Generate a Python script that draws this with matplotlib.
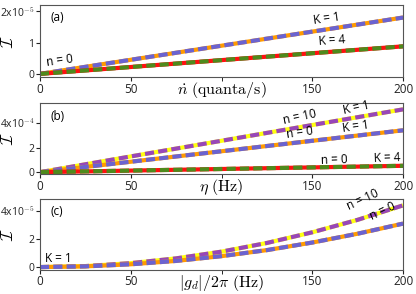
import numpy as np
import matplotlib.pyplot as plt

plt.rcParams['mathtext.fontset'] = 'cm'
plt.rcParams['font.family'] = ['Open Sans', 'DejaVu Sans']

# panel (a): vs ndot, units 1e-5
x_a = [0, 50, 100, 150, 200]
a_k1 = [0, 0.45, 0.9, 1.35, 1.8]
a_k4 = [0, 0.22, 0.44, 0.66, 0.88]

# panel (b): vs eta, units 1e-4
x_b = [0, 50, 100, 150, 200]
b_n10_k1 = [0, 1.28, 2.55, 3.83, 5.1]
b_n0_k1 = [0, 0.85, 1.7, 2.55, 3.4]
b_n0_k4 = [0, 0.13, 0.26, 0.39, 0.52]

# panel (c): vs |g_d|/2pi, units 1e-5
x_c = [0, 25, 50, 75, 100, 125, 150, 175, 200]
c_n10 = [0, 0.07, 0.28, 0.62, 1.1, 1.72, 2.48, 3.37, 4.4]
c_n0 = [0, 0.05, 0.2, 0.44, 0.78, 1.21, 1.75, 2.38, 3.1]

orange, blue = '#ff9a00', '#6b63d0'
yellow, purple = '#ffff10', '#9847b8'
red, green = '#ff1010', '#4e8a1c'

fig = plt.figure(figsize=(4.16, 2.94), dpi=100)
ax1 = fig.add_axes([0.096, 0.738, 0.873, 0.245])
ax2 = fig.add_axes([0.096, 0.408, 0.873, 0.241])
ax3 = fig.add_axes([0.096, 0.082, 0.873, 0.241])


def pair(ax, x, y, base, dash):
    ax.plot(x, y, color=base, lw=3.0, solid_capstyle='butt')
    ax.plot(x, y, color=dash, lw=3.0, ls=(0, (2.2, 1.0)), dash_capstyle='butt')


fs = 8.5
pair(ax1, x_a, a_k1, orange, blue)
pair(ax1, x_a, a_k4, red, green)
ax1.set_ylim(-0.1, 2.2)
ax1.set_yticks([0, 1, 2])
ax1.set_yticklabels(['0', '1', '2x10$^{-5}$'])
ax1.set_xlabel(r'$\dot{n}\ \mathrm{(quanta/s)}$', fontsize=11.5)
ax1.text(6, 1.7, '(a)', fontsize=fs)
ax1.text(158, 1.6, 'K = 1', fontsize=fs, rotation=8, ha='center')
ax1.text(161, 0.92, 'K = 4', fontsize=fs, rotation=4, ha='center')
ax1.text(11, 0.24, 'n = 0', fontsize=fs, rotation=8, ha='center')

pair(ax2, x_b, b_n10_k1, yellow, purple)
pair(ax2, x_b, b_n0_k1, orange, blue)
pair(ax2, x_b, b_n0_k4, red, green)
ax2.set_ylim(-0.15, 5.6)
ax2.set_yticks([0, 2, 4])
ax2.set_yticklabels(['0', '2', '4x10$^{-4}$'])
ax2.set_xlabel(r'$\eta\ \mathrm{(Hz)}$', fontsize=11.5)
ax2.text(6, 4.2, '(b)', fontsize=fs)
ax2.text(143, 3.9, 'n = 10', fontsize=fs, rotation=12, ha='center')
ax2.text(174, 4.75, 'K = 1', fontsize=fs, rotation=12, ha='center')
ax2.text(143, 2.75, 'n = 0', fontsize=fs, rotation=8, ha='center')
ax2.text(174, 3.3, 'K = 1', fontsize=fs, rotation=8, ha='center')
ax2.text(162, 0.65, 'n = 0', fontsize=fs, rotation=2, ha='center')
ax2.text(191, 0.85, 'K = 4', fontsize=fs, rotation=2, ha='center')

pair(ax3, x_c, c_n10, yellow, purple)
pair(ax3, x_c, c_n0, orange, blue)
ax3.set_ylim(-0.2, 4.85)
ax3.set_yticks([0, 2, 4])
ax3.set_yticklabels(['0', '2', '4x10$^{-5}$'])
ax3.set_xlabel(r'$|g_d|/2\pi\ \mathrm{(Hz)}$', fontsize=11.5)
ax3.text(6, 3.7, '(c)', fontsize=fs)
ax3.text(10, 0.35, 'K = 1', fontsize=fs, ha='center')
ax3.text(178, 4.1, 'n = 10', fontsize=fs, rotation=25, ha='center')
ax3.text(189, 3.35, 'n = 0', fontsize=fs, rotation=25, ha='center')

for ax in (ax1, ax2, ax3):
    ax.set_xlim(0, 200)
    ax.set_xticks([0, 50, 150, 200])
    ax.set_xticks([100], minor=True)
    ax.set_ylabel(r'$\mathcal{I}$', fontsize=12)
    ax.yaxis.set_label_coords(-0.062, 0.5)
    ax.xaxis.set_label_coords(0.5, -0.045)
    ax.xaxis.label.set_va('top')
    ax.tick_params(labelsize=8.5, length=3, pad=1, colors='#222222')
    ax.tick_params(which='minor', length=3)
    ax.tick_params(axis='y', labelsize=7.5)
    for s in ax.spines.values():
        s.set_color('#555555')

plt.savefig('out.png', dpi=100)
